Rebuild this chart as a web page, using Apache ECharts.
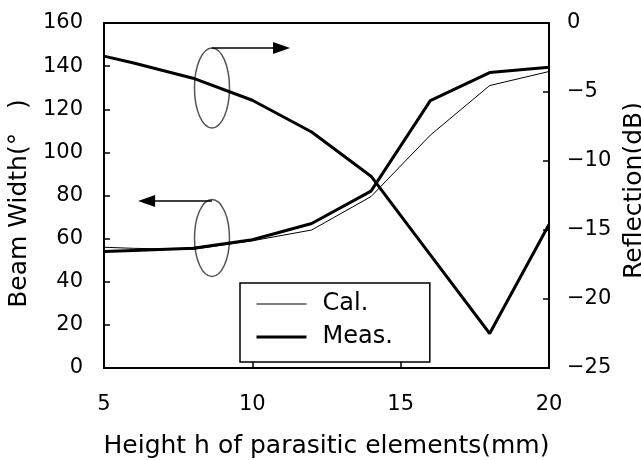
<!DOCTYPE html>
<html>
<head>
<meta charset="utf-8">
<script src="https://cdn.jsdelivr.net/npm/echarts@6/dist/echarts.min.js"></script>
<style>
html,body{margin:0;padding:0;background:#fff;}
#main{width:641px;height:460px;}
</style>
</head>
<body>
<div id="main"></div>
<script>
// Data
var heights = [5, 6, 8, 10, 12, 14, 16, 18, 20];
var beamCal = [56, 55.5, 55, 59, 64, 79.5, 108, 131, 137.5];
var beamMeas = [54, 54.5, 55.5, 59.5, 67, 82, 124, 137, 139.5];
var reflectionMeas = [-2.4, -2.9, -4.0, -5.6, -7.9, -11.1, -16.8, -22.5, -14.6];
var xTicks = [5, 10, 15, 20];
var leftTicks = [0, 20, 40, 60, 80, 100, 120, 140, 160];
var rightTicks = [-25, -20, -15, -10, -5, 0];
var legendNames = ['Cal.', 'Meas.'];

function pairs(xs, ys) { return xs.map(function (x, i) { return [x, ys[i]]; }); }

var FONT = 'DejaVu Sans';
var chart = echarts.init(document.getElementById('main'), null, {renderer: 'canvas'});
var option = {
  backgroundColor: '#fff',
  animation: false,
  textStyle: {fontFamily: FONT, color: '#000'},
  grid: {left: 104, right: 92, top: 23, bottom: 92, show: true, borderColor: '#000', borderWidth: 2,
    backgroundColor: 'transparent', containLabel: false, outerBoundsMode: 'none'},
  legend: {
    data: legendNames,
    orient: 'vertical',
    left: 240, top: 283,
    padding: [9, 37, 13, 15],
    itemGap: 9,
    itemWidth: 50,
    itemHeight: 14,
    borderColor: '#000',
    borderWidth: 1.5,
    backgroundColor: '#fff',
    lineStyle: {width: 'inherit'},
    itemStyle: {opacity: 0},
    textStyle: {fontFamily: FONT, fontSize: 24, color: '#000', padding: [0, 0, 0, 11]},
    selectedMode: false
  },
  xAxis: {
    type: 'value', min: xTicks[0], max: xTicks[xTicks.length - 1], interval: 5,
    name: 'Height h of parasitic elements(mm)', nameLocation: 'middle', nameGap: 66,
    nameTextStyle: {fontFamily: FONT, fontSize: 25, color: '#000'},
    axisLine: {lineStyle: {color: '#000', width: 2}},
    axisTick: {inside: true, length: 6, lineStyle: {color: '#000', width: 1.5}},
    axisLabel: {fontFamily: FONT, fontSize: 21, color: '#000', margin: 26},
    splitLine: {show: false}
  },
  yAxis: [{
    type: 'value', min: leftTicks[0], max: leftTicks[leftTicks.length - 1], interval: 20,
    name: 'Beam Width(°   )', nameLocation: 'middle', nameGap: 70, nameRotate: 90,
    nameTextStyle: {fontFamily: FONT, fontSize: 25, color: '#000', padding: [0, 16, 0, 0]},
    axisLine: {show: true, lineStyle: {color: '#000', width: 2}},
    axisTick: {inside: true, length: 6, lineStyle: {color: '#000', width: 1.5}},
    axisLabel: {fontFamily: FONT, fontSize: 21, color: '#000', margin: 21},
    splitLine: {show: false}
  }, {
    type: 'value', position: 'right', min: rightTicks[0], max: rightTicks[rightTicks.length - 1], interval: 5,
    name: 'Reflection(dB)', nameLocation: 'middle', nameGap: 70, nameRotate: 90,
    nameTextStyle: {fontFamily: FONT, fontSize: 25, color: '#000', padding: [0, 0, 0, 10]},
    axisLine: {show: true, lineStyle: {color: '#000', width: 2}},
    axisTick: {inside: true, length: 6, lineStyle: {color: '#000', width: 1.5}},
    axisLabel: {fontFamily: FONT, fontSize: 21, color: '#000', margin: 18,
      formatter: function (v) { return String(v).replace('-', '\u2212'); }},
    splitLine: {show: false}
  }],
  series: [{
    name: 'Cal.', type: 'line', yAxisIndex: 0, data: pairs(heights, beamCal),
    symbol: 'none', color: '#000', lineStyle: {color: '#000', width: 1}, z: 3
  }, {
    name: 'Meas.', type: 'line', yAxisIndex: 0, data: pairs(heights, beamMeas),
    symbol: 'none', color: '#000', lineStyle: {color: '#000', width: 3}, z: 4
  }, {
    name: 'Reflection', type: 'line', yAxisIndex: 1, data: pairs(heights, reflectionMeas),
    symbol: 'none', color: '#000', lineStyle: {color: '#000', width: 3}, z: 4
  }]
};
chart.setOption(option);

// Annotation ellipses and arrows (positioned in data coordinates)
var ellipseH = 8.64, upperBeam = 129.9, lowerBeam = 60.3;
var upperArrowBeam = 148.4, upperArrowEndH = 11.27;
var lowerArrowBeam = 77.5, lowerArrowEndH = 6.15;
function px(h, b) { return chart.convertToPixel({xAxisIndex: 0, yAxisIndex: 0}, [h, b]); }
var cu = px(ellipseH, upperBeam), cl = px(ellipseH, lowerBeam);
var au0 = px(ellipseH, upperArrowBeam), au1 = px(upperArrowEndH, upperArrowBeam);
var al0 = px(ellipseH, lowerArrowBeam), al1 = px(lowerArrowEndH, lowerArrowBeam);
chart.setOption({
  graphic: [
    {type: 'ellipse', shape: {cx: cu[0], cy: cu[1], rx: 17.5, ry: 40}, style: {fill: null, stroke: '#555', lineWidth: 1.5}, z: 2},
    {type: 'ellipse', shape: {cx: cl[0], cy: cl[1], rx: 17.5, ry: 38.5}, style: {fill: null, stroke: '#555', lineWidth: 1.5}, z: 2},
    {type: 'line', shape: {x1: au0[0], y1: au0[1], x2: au1[0] - 14, y2: au1[1]}, style: {stroke: '#000', lineWidth: 1.5}, z: 2},
    {type: 'polygon', shape: {points: [[au1[0], au1[1]], [au1[0] - 17, au1[1] - 6], [au1[0] - 17, au1[1] + 6]]}, style: {fill: '#000'}, z: 2},
    {type: 'line', shape: {x1: al0[0], y1: al0[1], x2: al1[0] + 14, y2: al1[1]}, style: {stroke: '#000', lineWidth: 1.5}, z: 2},
    {type: 'polygon', shape: {points: [[al1[0], al1[1]], [al1[0] + 17, al1[1] - 6], [al1[0] + 17, al1[1] + 6]]}, style: {fill: '#000'}, z: 2}
  ]
});
</script>
</body>
</html>
